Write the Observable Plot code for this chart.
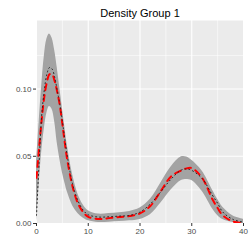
<!DOCTYPE html>
<html>
<head>
<meta charset="utf-8">
<script src="https://cdn.jsdelivr.net/npm/d3@7"></script>
<script src="https://cdn.jsdelivr.net/npm/@observablehq/plot@0.6"></script>
<style>
  html, body { margin: 0; padding: 0; background: #fff; }
  #chart svg { display: block; }
</style>
</head>
<body>
<div id="chart"></div>
<script>
const title = "Density Group 1";
const xs =        [0, 0.5, 1, 1.5, 2, 2.5, 3, 3.5, 4, 4.5, 5, 5.5, 6, 7, 8, 9, 10, 12, 14, 16, 18, 20, 22, 24, 26, 28, 29, 30, 32, 34, 35, 36, 38, 40];
const upper =     [0.045, 0.075, 0.102, 0.124, 0.137, 0.141, 0.138, 0.129, 0.116, 0.101, 0.086, 0.071, 0.057, 0.036, 0.022, 0.014, 0.0095, 0.007, 0.0075, 0.008, 0.009, 0.0115, 0.018, 0.030, 0.042, 0.0496, 0.0495, 0.047, 0.039, 0.025, 0.018, 0.012, 0.0055, 0.003];
const lower =     [0.000, 0.028, 0.053, 0.070, 0.082, 0.087, 0.085, 0.076, 0.060, 0.048, 0.038, 0.030, 0.023, 0.013, 0.0075, 0.004, 0.002, 0.0008, 0.001, 0.0015, 0.002, 0.003, 0.0065, 0.015, 0.025, 0.032, 0.0328, 0.032, 0.024, 0.011, 0.006, 0.003, 0.0008, 0.000];
const meanDens =  [0.034, 0.056, 0.077, 0.094, 0.105, 0.111, 0.111, 0.106, 0.098, 0.088, 0.074, 0.059, 0.046, 0.027, 0.015, 0.0085, 0.005, 0.0033, 0.004, 0.0048, 0.0055, 0.0075, 0.013, 0.024, 0.035, 0.0395, 0.041, 0.0412, 0.034, 0.018, 0.0115, 0.006, 0.0015, 0.0004];
const medianDens = [0.006, 0.045, 0.080, 0.099, 0.111, 0.116, 0.115, 0.109, 0.099, 0.089, 0.076, 0.062, 0.049, 0.029, 0.017, 0.010, 0.0065, 0.0048, 0.005, 0.0055, 0.006, 0.0085, 0.0145, 0.0235, 0.033, 0.0398, 0.0405, 0.0395, 0.0335, 0.021, 0.015, 0.0085, 0.003, 0.001];

const xMajor = [0, 10, 20, 30, 40];
const xMinor = [5, 15, 25, 35];
const yMajor = [0, 0.05, 0.10];
const yMinor = [0.025, 0.075, 0.125];

const data = xs.map((x, i) => ({x, lo: lower[i], hi: upper[i], mean: meanDens[i], med: medianDens[i]}));

const chart = Plot.plot({
  width: 249,
  height: 249,
  marginLeft: 36,
  marginRight: 6,
  marginTop: 20,
  marginBottom: 26,
  style: {fontFamily: "'Liberation Sans', Arial, sans-serif", background: "#fff"},
  x: {domain: [0, 40]},
  y: {domain: [0, 0.151]},
  marks: [
    Plot.frame({fill: "#ebebeb", stroke: null}),
    Plot.ruleX(xMinor, {stroke: "#fff", strokeWidth: 0.55}),
    Plot.ruleY(yMinor, {stroke: "#fff", strokeWidth: 0.55}),
    Plot.ruleX(xMajor, {stroke: "#fff", strokeWidth: 1.1}),
    Plot.ruleY(yMajor, {stroke: "#fff", strokeWidth: 1.1}),
    Plot.areaY(data, {x: "x", y1: "lo", y2: "hi", fill: "#a3a3a3", curve: "catmull-rom", clip: true}),
    Plot.line(data, {x: "x", y: "mean", stroke: "#ff0000", strokeWidth: 2, strokeDasharray: "6,5", curve: "catmull-rom", clip: true}),
    Plot.line(data, {x: "x", y: "med", stroke: "#222", strokeWidth: 1, strokeDasharray: "1,3", curve: "catmull-rom", clip: true}),
    Plot.axisX({ticks: xMajor, tickSize: 3, tickPadding: 2, fontSize: 8, stroke: "#333", color: "#4d4d4d", label: null, tickFormat: d => String(d)}),
    Plot.axisY({ticks: yMajor, tickSize: 3, tickPadding: 2, fontSize: 8, stroke: "#333", color: "#4d4d4d", label: null, tickFormat: d3.format(".2f")}),
    Plot.text([title], {frameAnchor: "top", dy: -11, fontSize: 11, fill: "#000", text: d => d})
  ]
});
document.getElementById("chart").appendChild(chart);
</script>
</body>
</html>
